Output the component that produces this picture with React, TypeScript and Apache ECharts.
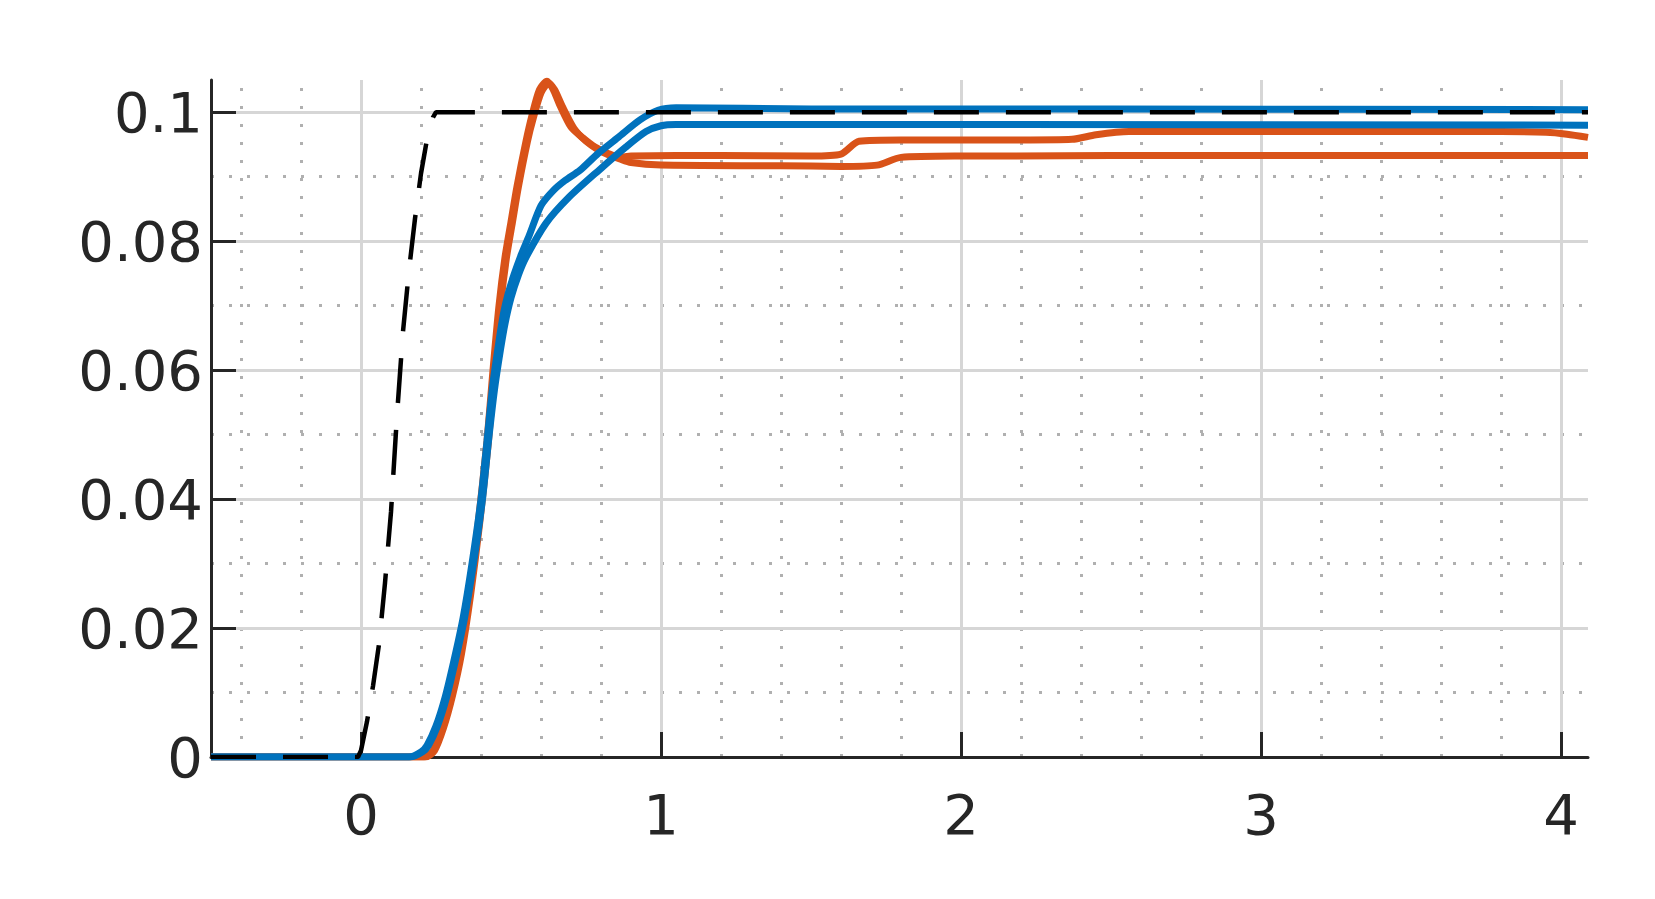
import React, { useEffect, useRef } from "react";
import * as echarts from "echarts";

// Axis ranges and tick labels
const X_MIN = -0.5;
const X_MAX = 4.09;
const Y_MIN = 0;
const Y_MAX = 0.105;
const xTickValues = [0, 1, 2, 3, 4];
const yTickValues = [0, 0.02, 0.04, 0.06, 0.08, 0.1];
const xMinorStep = 0.2;
const yMinorStep = 0.005;

// Reference (black dashed)
const refX = [-0.5, -0.01, 0, 0.02, 0.04, 0.06, 0.08, 0.1, 0.12, 0.14, 0.16, 0.18, 0.2, 0.22, 0.24, 0.25, 4.09];
const refY = [0, 0, 0.001, 0.0055, 0.011, 0.0175, 0.027, 0.038, 0.053, 0.066, 0.0755, 0.0835, 0.0905, 0.0958, 0.0992, 0.1, 0.1];

// Blue response 1 (settles just above 0.1)
const blue1X = [-0.5, 0.16, 0.2, 0.22, 0.25, 0.28, 0.31, 0.34, 0.37, 0.4, 0.42, 0.44, 0.46, 0.475, 0.49, 0.51, 0.535, 0.56, 0.6, 0.64, 0.68, 0.73, 0.79, 0.86, 0.93, 0.99, 1.05, 1.5, 2.5, 4.09];
const blue1Y = [0, 0, 0.0008, 0.0018, 0.0048, 0.0092, 0.015, 0.0215, 0.03, 0.04, 0.049, 0.058, 0.0645, 0.0688, 0.0718, 0.0748, 0.078, 0.0808, 0.0855, 0.0878, 0.0894, 0.091, 0.0936, 0.0962, 0.0988, 0.1003, 0.1007, 0.1005, 0.1005, 0.1004];

// Blue response 2 (settles near 0.098)
const blue2X = [-0.5, 0.165, 0.205, 0.225, 0.255, 0.285, 0.315, 0.345, 0.375, 0.405, 0.425, 0.445, 0.465, 0.48, 0.5, 0.525, 0.55, 0.617, 0.693, 0.793, 0.883, 0.95, 1.0, 1.05, 2.0, 4.09];
const blue2Y = [0, 0, 0.0008, 0.0018, 0.0048, 0.0092, 0.015, 0.0215, 0.03, 0.04, 0.049, 0.057, 0.0632, 0.0672, 0.0712, 0.0748, 0.0775, 0.0828, 0.0868, 0.091, 0.0946, 0.097, 0.0979, 0.0981, 0.0981, 0.098];

// Orange response A
const orangeAX = [-0.5, 0.21, 0.24, 0.27, 0.3, 0.33, 0.36, 0.39, 0.42, 0.44, 0.46, 0.48, 0.5, 0.52, 0.55, 0.57, 0.595, 0.62, 0.64, 0.66, 0.7, 0.74, 0.78, 0.82, 0.86, 0.9, 1.2, 1.5, 1.6, 1.66, 1.8, 2.2, 2.37, 2.45, 2.56, 3.0, 3.8, 3.95, 4.02, 4.09];
const orangeAY = [0, 0, 0.001, 0.0045, 0.0095, 0.016, 0.025, 0.036, 0.049, 0.06, 0.07, 0.0775, 0.083, 0.0885, 0.0955, 0.0995, 0.1035, 0.1048, 0.1036, 0.1014, 0.0977, 0.096, 0.0946, 0.0937, 0.093, 0.0932, 0.0933, 0.0932, 0.0935, 0.0955, 0.0957, 0.0957, 0.0958, 0.0965, 0.097, 0.097, 0.097, 0.0969, 0.0966, 0.0961];

// Orange response B
const orangeBX = [-0.5, 0.215, 0.245, 0.275, 0.305, 0.335, 0.365, 0.395, 0.425, 0.445, 0.465, 0.485, 0.505, 0.525, 0.555, 0.575, 0.6, 0.625, 0.645, 0.67, 0.71, 0.75, 0.79, 0.83, 0.86, 0.9, 1.0, 1.4, 1.6, 1.72, 1.8, 2.0, 3.0, 4.09];
const orangeBY = [0, 0, 0.001, 0.0045, 0.0095, 0.016, 0.025, 0.036, 0.049, 0.06, 0.07, 0.0775, 0.083, 0.0885, 0.0955, 0.0992, 0.103, 0.1045, 0.1035, 0.101, 0.0975, 0.0955, 0.0942, 0.0933, 0.0928, 0.0922, 0.0918, 0.0917, 0.0916, 0.0918, 0.093, 0.0932, 0.0933, 0.0933];

const BLUE = "#0072BD";
const ORANGE = "#D95319";
const AXIS_COLOR = "#262626";

const toPairs = (xs: number[], ys: number[]) => xs.map((x, i) => [x, ys[i]]);

const isMultiple = (v: number, step: number) => Math.abs(v / step - Math.round(v / step)) < 1e-6;

function buildGridLines() {
  const lines: any[] = [];
  const majorStyle = { color: "#d6d6d6", width: 3, type: "solid" };
  const minorStyle = { color: "#b0b0b0", width: 3, type: [3, 15] };
  // minor vertical
  for (let k = Math.ceil(X_MIN / xMinorStep); k * xMinorStep <= X_MAX + 1e-9; k++) {
    const v = +(k * xMinorStep).toFixed(6);
    if (v <= X_MIN + 1e-9) continue;
    if (isMultiple(v, 1)) continue;
    lines.push({ xAxis: v, lineStyle: minorStyle });
  }
  // minor horizontal
  for (let k = 1; k * yMinorStep <= Y_MAX + 1e-9; k++) {
    const v = +(k * yMinorStep).toFixed(6);
    if (isMultiple(v, 0.02)) continue;
    lines.push({ yAxis: v, lineStyle: minorStyle });
  }
  // major
  xTickValues.forEach((v) => {
    lines.push({ xAxis: v, lineStyle: majorStyle });
  });
  yTickValues.forEach((v) => {
    if (v === Y_MIN) return;
    lines.push({ yAxis: v, lineStyle: majorStyle });
  });
  return lines;
}

export default function App() {
  const ref = useRef<HTMLDivElement>(null);

  useEffect(() => {
    if (!ref.current) return;
    const chart = echarts.init(ref.current, null, { renderer: "svg" });
    const labelFont = {
      fontFamily: "DejaVu Sans",
      fontSize: 56,
      color: AXIS_COLOR,
    };
    chart.setOption({
      animation: false,
      backgroundColor: "#ffffff",
      grid: { left: 211, right: 67, top: 80, bottom: 142, containLabel: false },
      xAxis: {
        type: "value",
        min: X_MIN,
        max: X_MAX,
        z: 2,
        axisLine: { show: true, onZero: false, lineStyle: { color: AXIS_COLOR, width: 3 } },
        axisTick: {
          show: true,
          inside: true,
          length: 25,
          customValues: xTickValues,
          lineStyle: { color: AXIS_COLOR, width: 3 },
        },
        axisLabel: {
          ...labelFont,
          margin: 29,
          customValues: xTickValues,
          formatter: (v: number) => String(v),
        },
        splitLine: { show: false },
        minorTick: { show: false },
        minorSplitLine: { show: false },
      },
      yAxis: {
        type: "value",
        min: Y_MIN,
        max: Y_MAX,
        interval: 0.02,
        z: 2,
        axisLine: { show: true, onZero: false, lineStyle: { color: AXIS_COLOR, width: 3 } },
        axisTick: {
          show: true,
          inside: true,
          length: 25,
          customValues: yTickValues,
          lineStyle: { color: AXIS_COLOR, width: 3 },
        },
        axisLabel: {
          ...labelFont,
          margin: 8,
          customValues: yTickValues,
          formatter: (v: number) => String(+v.toFixed(4)),
        },
        splitLine: { show: false },
        minorTick: { show: false },
        minorSplitLine: { show: false },
      },
      series: [
        {
          type: "line",
          z: 1,
          data: [[X_MIN, Y_MIN]],
          symbol: "none",
          showSymbol: false,
          lineStyle: { width: 0, opacity: 0 },
          silent: true,
          markLine: {
            silent: true,
            z: 1,
            symbol: ["none", "none"],
            label: { show: false },
            emphasis: { disabled: true },
            animation: false,
            data: buildGridLines(),
          },
        },
        {
          type: "line",
          z: 3,
          data: toPairs(orangeAX, orangeAY),
          symbol: "none",
          showSymbol: false,
          smooth: 0.25,
          lineStyle: { color: ORANGE, width: 7 },
        },
        {
          type: "line",
          z: 3,
          data: toPairs(orangeBX, orangeBY),
          symbol: "none",
          showSymbol: false,
          smooth: 0.25,
          lineStyle: { color: ORANGE, width: 7 },
        },
        {
          type: "line",
          z: 4,
          data: toPairs(blue2X, blue2Y),
          symbol: "none",
          showSymbol: false,
          smooth: 0.25,
          lineStyle: { color: BLUE, width: 7 },
        },
        {
          type: "line",
          z: 4,
          data: toPairs(blue1X, blue1Y),
          symbol: "none",
          showSymbol: false,
          smooth: 0.25,
          lineStyle: { color: BLUE, width: 7 },
        },
        {
          type: "line",
          z: 5,
          data: toPairs(refX, refY),
          symbol: "none",
          showSymbol: false,
          lineStyle: { color: "#000000", width: 4.5, type: [45, 27] },
        },
      ],
    });
    return () => chart.dispose();
  }, []);

  return (
    <div
      ref={ref}
      style={{ position: "absolute", left: 0, top: 0, width: 1655, height: 899, background: "#fff" }}
    />
  );
}
